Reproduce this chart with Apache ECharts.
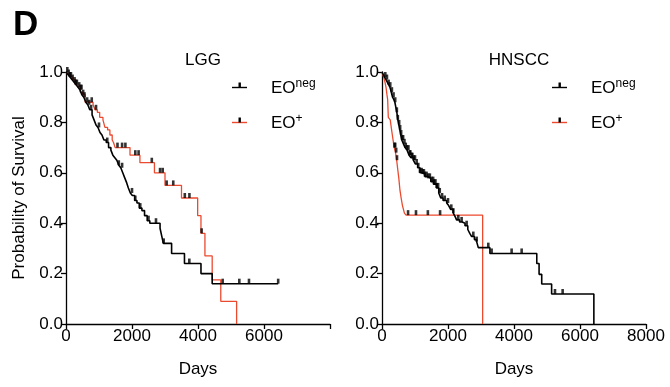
<!DOCTYPE html>
<html>
<head>
<meta charset="utf-8">
<script src="https://cdn.jsdelivr.net/npm/echarts@6/dist/echarts.min.js"></script>
<style>
html,body{margin:0;padding:0;background:#fff;}
#chart{width:670px;height:387px;}
</style>
</head>
<body>
<div id="chart"></div>
<script>
// ---- Data ----
const panelTitles = ['LGG', 'HNSCC'];
const xTicks = [0, 2000, 4000, 6000, 8000];
const yTicks = [0.0, 0.2, 0.4, 0.6, 0.8, 1.0];

// LGG, EO-neg: [day, survival] at each event
const lggNeg = [[0,1],[60,0.99],[120,0.98],[180,0.97],[240,0.96],[300,0.95],[360,0.94],[420,0.93],[480,0.91],[540,0.90],[600,0.88],[660,0.87],[720,0.85],[790,0.83],[850,0.81],[910,0.79],[970,0.78],[1030,0.76],[1090,0.75],[1150,0.73],[1220,0.72],[1290,0.70],[1360,0.69],[1420,0.67],[1480,0.66],[1540,0.65],[1600,0.63],[1660,0.62],[1720,0.60],[1780,0.58],[1840,0.56],[1890,0.54],[1950,0.52],[2010,0.51],[2080,0.49],[2150,0.48],[2220,0.46],[2300,0.45],[2380,0.43],[2460,0.41],[2540,0.40],[2850,0.38],[2900,0.35],[2950,0.32],[3200,0.28],[3590,0.24],[4090,0.20],[4430,0.16],[6430,0.16]];
const lggNegCensor = [40,80,120,150,200,260,300,330,400,440,470,520,560,640,700,760,1000,1250,1600,1700,2000,2100,2250,2500,2727,2960,3737,4747,5252,5545,6430];

// LGG, EO+
const lggPos = [[0,1],[60,0.99],[130,0.98],[200,0.97],[280,0.95],[350,0.94],[430,0.92],[500,0.91],[580,0.88],[820,0.87],[880,0.85],[950,0.84],[1020,0.82],[1120,0.81],[1180,0.78],[1260,0.77],[1330,0.75],[1400,0.73],[1440,0.72],[1490,0.70],[1940,0.67],[2240,0.64],[2680,0.60],[3000,0.55],[3500,0.50],[3990,0.43],[4090,0.36],[4210,0.27],[4430,0.175],[4690,0.09],[5170,0]];
const lggPosCensor = [780,910,1560,1700,1800,2100,2200,2600,2850,2930,3050,3250,3600,3740,4110];

// HNSCC, EO-neg
const hnNeg = [[0,1],[40,0.99],[80,0.98],[120,0.97],[160,0.96],[200,0.95],[240,0.94],[280,0.92],[320,0.90],[360,0.89],[390,0.88],[420,0.86],[450,0.84],[480,0.81],[510,0.79],[540,0.77],[570,0.75],[600,0.73],[650,0.715],[700,0.70],[760,0.69],[820,0.67],[880,0.66],[950,0.65],[1010,0.635],[1080,0.62],[1150,0.60],[1220,0.595],[1300,0.585],[1400,0.578],[1480,0.565],[1560,0.555],[1650,0.54],[1720,0.52],[1780,0.50],[1850,0.49],[1960,0.48],[2020,0.47],[2080,0.455],[2160,0.44],[2220,0.425],[2260,0.413],[2350,0.405],[2430,0.40],[2515,0.39],[2600,0.375],[2660,0.36],[2717,0.347],[2800,0.335],[2868,0.327],[2918,0.303],[3270,0.28],[4690,0.24],[4760,0.197],[4840,0.159],[5140,0.119],[6420,0]];
const hnNegCensor = [100,150,200,250,300,350,400,450,480,520,550,580,610,640,680,720,760,800,840,860,900,920,960,1000,1050,1100,1150,1200,1230,1270,1300,1350,1400,1450,1500,1550,1580,1620,1660,1700,1750,1820,1900,2000,2100,2161,2312,2413,2565,2767,2868,3221,3322,3928,4232,5242,5474];

// HNSCC, EO+
const hnPos = [[0,1],[50,0.98],[90,0.96],[121,0.94],[150,0.91],[172,0.89],[191,0.82],[250,0.81],[280,0.78],[324,0.74],[370,0.70],[410,0.68],[445,0.65],[480,0.61],[510,0.578],[545,0.53],[580,0.50],[620,0.47],[680,0.44],[730,0.432],[3050,0]];
const hnPosCensor = [380,400,430,455,790,1030,1390,1760];

// ---- Build chart ----
const FONT = '"Liberation Sans", Arial, sans-serif';
const RED = '#ec4a2f';

function survAt(steps, t) {
  let s = steps[0][1];
  for (const p of steps) { if (p[0] <= t) s = p[1]; else break; }
  return s;
}
function censorPts(steps, days) { return days.map(d => [d, survAt(steps, d)]); }

const chart = echarts.init(document.getElementById('chart'), null, {renderer: 'canvas'});

function xAxis(idx, showLast) {
  return {
    type: 'value', gridIndex: idx, min: xTicks[0], max: xTicks[xTicks.length - 1], interval: 2000,
    name: 'Days', nameLocation: 'middle', nameGap: 37,
    nameTextStyle: {fontFamily: FONT, fontSize: 17, color: '#000'},
    axisLine: {show: true, onZero: false, lineStyle: {color: '#000', width: 1.3}},
    axisTick: {show: true, inside: false, length: 5, lineStyle: {color: '#000', width: 1.3}},
    axisLabel: {fontFamily: FONT, fontSize: 17, color: '#000', margin: 4,
      formatter: v => (!showLast && v === 8000) ? '' : String(v)},
    splitLine: {show: false}
  };
}
function yAxis(idx, withName) {
  return {
    type: 'value', gridIndex: idx, min: yTicks[0], max: yTicks[yTicks.length - 1], interval: 0.2,
    name: withName ? 'Probability of Survival' : '', nameLocation: 'middle', nameGap: 38,
    nameTextStyle: {fontFamily: FONT, fontSize: 17, color: '#000'},
    axisLine: {show: true, onZero: false, lineStyle: {color: '#000', width: 1.3}},
    axisTick: {show: true, inside: false, length: 5, lineStyle: {color: '#000', width: 1.3}},
    axisLabel: {fontFamily: FONT, fontSize: 17, color: '#000', margin: 3,
      formatter: v => v.toFixed(1)},
    splitLine: {show: false}
  };
}
function curve(name, data, idx, color, z, w) {
  return {
    name: name, type: 'line', xAxisIndex: idx, yAxisIndex: idx, data: data,
    step: 'end', showSymbol: false, symbol: 'none', z: z,
    lineStyle: {color: color, width: w}, itemStyle: {color: color}, animation: false
  };
}
function censors(data, idx, z) {
  return {
    type: 'scatter', xAxisIndex: idx, yAxisIndex: idx, data: data, z: z,
    symbol: 'rect', symbolSize: [2.6, 5], symbolOffset: [0, -2.5],
    itemStyle: {color: '#000'}, animation: false, silent: true
  };
}

// Legend (drawn with graphic elements so the tick mark stays black on the red line)
function legendItems(lineX, textX) {
  const rows = [
    {y: 87.5, color: '#000', sup: 'neg'},
    {y: 122.5, color: RED, sup: '+'}
  ];
  const out = [];
  rows.forEach(r => {
    out.push({type: 'line', shape: {x1: lineX, y1: r.y, x2: lineX + 15, y2: r.y},
      style: {stroke: r.color, lineWidth: 1.4}});
    out.push({type: 'rect', shape: {x: lineX + 6.5, y: r.y - 5, width: 2.4, height: 5},
      style: {fill: '#000'}});
    out.push({type: 'text', x: textX, y: r.y,
      style: {text: '{a|EO}{s|' + r.sup + '}', verticalAlign: 'middle', align: 'left',
        rich: {
          a: {fontFamily: FONT, fontSize: 17, fill: '#000', verticalAlign: 'bottom'},
          s: {fontFamily: FONT, fontSize: 12, fill: '#000', verticalAlign: 'bottom', padding: [0, 0, 7, 0]}
        }}});
  });
  return out;
}

const option = {
  backgroundColor: '#fff',
  animation: false,
  title: [
    {text: 'D', left: 8, top: 3, textStyle: {fontFamily: FONT, fontSize: 35, fontWeight: 'bold', color: '#000'}},
    {text: panelTitles[0], left: 198, top: 47, textAlign: 'center', textStyle: {fontFamily: FONT, fontSize: 17, fontWeight: 'normal', color: '#000'}},
    {text: panelTitles[1], left: 514, top: 47, textAlign: 'center', textStyle: {fontFamily: FONT, fontSize: 17, fontWeight: 'normal', color: '#000'}}
  ],
  grid: [
    {left: 66, right: 340, top: 72, bottom: 63},
    {left: 382, right: 24, top: 72, bottom: 63}
  ],
  xAxis: [xAxis(0, false), xAxis(1, true)],
  yAxis: [yAxis(0, true), yAxis(1, false)],
  series: [
    curve('EO+ LGG', lggPos, 0, RED, 2, 1.3),
    curve('EOneg LGG', lggNeg, 0, '#000', 3, 1.6),
    censors(censorPts(lggPos, lggPosCensor), 0, 4),
    censors(censorPts(lggNeg, lggNegCensor), 0, 4),
    curve('EO+ HNSCC', hnPos, 1, RED, 2, 1.3),
    curve('EOneg HNSCC', hnNeg, 1, '#000', 3, 1.6),
    censors(censorPts(hnPos, hnPosCensor), 1, 4),
    censors(censorPts(hnNeg, hnNegCensor), 1, 4)
  ],
  graphic: legendItems(232, 271).concat(legendItems(552, 591))
};
chart.setOption(option);
</script>
</body>
</html>
